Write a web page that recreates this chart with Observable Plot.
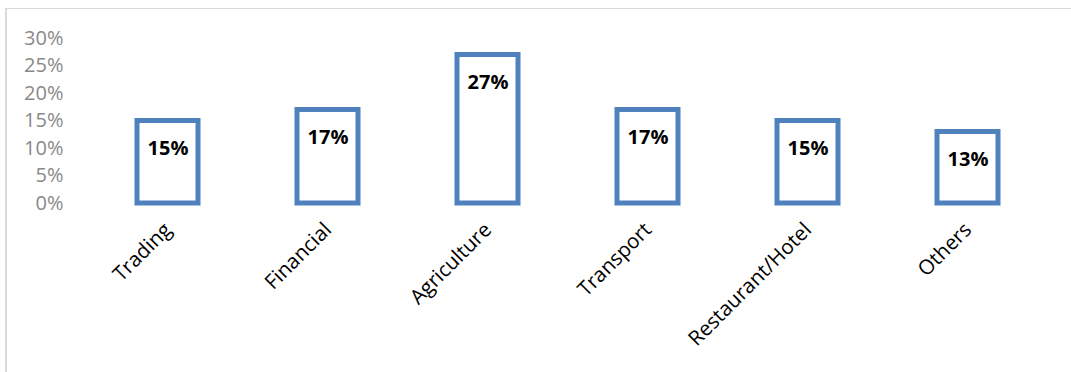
<!DOCTYPE html>
<html>
<head>
<meta charset="utf-8">
<script src="https://cdn.jsdelivr.net/npm/d3@7"></script>
<script src="https://cdn.jsdelivr.net/npm/@observablehq/plot@0.6"></script>
<style>
  html, body { margin: 0; padding: 0; background: #fff; }
  #wrap { position: relative; width: 1071px; height: 372px; overflow: hidden; }
  #frame { position: absolute; left: 5px; top: 8px; width: 1100px; height: 400px;
           border-top: 1px solid #d9d9d9; border-left: 2px solid #d9d9d9; box-sizing: border-box; }
  #chart { position: absolute; left: 0; top: 0; }
</style>
</head>
<body>
<div id="wrap"><div id="frame"></div><div id="chart"></div></div>
<script>
const categories = ["Trading", "Financial", "Agriculture", "Transport", "Restaurant/Hotel", "Others"];
const values = [15, 17, 27, 17, 15, 13];
const yTicks = [0, 5, 10, 15, 20, 25, 30];

const data = categories.map((c, i) => ({category: c, value: values[i]}));

const chart = Plot.plot({
  width: 1071,
  height: 372,
  marginLeft: 87,
  marginRight: 24,
  marginTop: 38,
  marginBottom: 169,
  style: {background: "transparent", fontFamily: "'Open Sans', sans-serif"},
  x: {domain: categories, paddingInner: 0.62, paddingOuter: 0.31, label: null},
  y: {domain: [0, 30], label: null},
  marks: [
    Plot.axisY({ticks: yTicks, tickFormat: d => d + "%", tickSize: 0, tickPadding: 24,
                fontSize: 20, fill: "#898989", label: null}),
    Plot.axisX({tickSize: 0, tickRotate: -45, tickPadding: 23, fontSize: 20.5, fill: "#000", label: null}),
    Plot.barY(data, {x: "category", y: "value", fill: "#fff", stroke: "#4f81bd", strokeWidth: 5, inset: 0}),
    Plot.text(data, {x: "category", y: "value", text: d => d.value + "%", dy: 28,
                     fontSize: 20, fontWeight: "bold", fill: "#000"})
  ]
});
document.getElementById("chart").appendChild(chart);
</script>
</body>
</html>
